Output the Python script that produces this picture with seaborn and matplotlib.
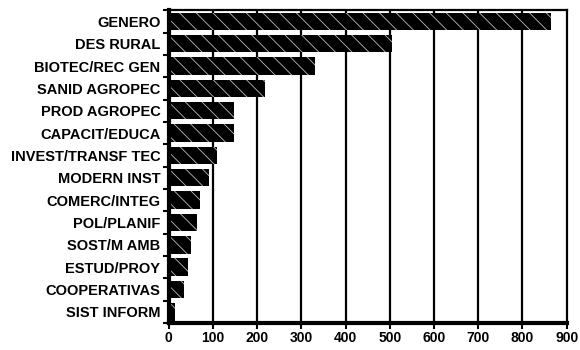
import numpy as np
import pandas as pd
import matplotlib
matplotlib.use("Agg")
import matplotlib.pyplot as plt
import seaborn as sns

# ── Data ─────────────────────────────────────────────────────────────────────
categories = ["GENERO", "DES RURAL", "BIOTEC/REC GEN", "SANID AGROPEC",
              "PROD AGROPEC", "CAPACIT/EDUCA", "INVEST/TRANSF TEC",
              "MODERN INST", "COMERC/INTEG", "POL/PLANIF", "SOST/M AMB",
              "ESTUD/PROY", "COOPERATIVAS", "SIST INFORM"]
values = [865, 505, 330, 217, 148, 148, 110, 92, 70, 63, 51, 43, 34, 15]
x_ticks = [0, 100, 200, 300, 400, 500, 600, 700, 800, 900]

sns.set_theme(style="white")
plt.rcParams["font.family"] = ["Liberation Sans", "DejaVu Sans"]
plt.rcParams["hatch.linewidth"] = 0.6

df = pd.DataFrame({"Tema": categories, "Valor": values})

fig = plt.figure(figsize=(5.8, 3.5), dpi=100)
ax = fig.add_axes([0.291, 0.077, 0.686, 0.894])

# vertical grid lines behind bars
for t in x_ticks[1:-1]:
    ax.axvline(t, color="black", lw=1.6, zorder=0)

sns.barplot(data=df, y="Tema", x="Valor", orient="h", color="black",
            width=0.78, ax=ax, zorder=2)

# light diagonal hatch on black bars (hatch follows edge colour)
for p in ax.patches:
    p.set_facecolor("black")
    p.set_hatch("\\\\")
    p.set_edgecolor("#bbbbbb")
    p.set_linewidth(0)

ax.set_xlim(0, 900)
ax.set_ylim(len(categories) - 0.5, -0.5)
ax.set_xticks(x_ticks)
ax.set_xlabel("")
ax.set_ylabel("")

for s in ax.spines.values():
    s.set_color("black")
    s.set_linewidth(1.6)
ax.spines["left"].set_linewidth(3)
ax.spines["bottom"].set_linewidth(3)

# category boundary ticks on the y axis
ax.set_yticks(np.arange(len(categories) + 1) - 0.5, minor=True)
ax.tick_params(axis="y", which="major", length=0, pad=6, labelsize=10.5)
ax.tick_params(axis="y", which="minor", left=True, length=4, width=1.5, color="black")
ax.tick_params(axis="x", bottom=True, length=4, width=1.5, color="black",
               labelsize=10, pad=2)
for lbl in ax.get_yticklabels() + ax.get_xticklabels():
    lbl.set_fontweight("bold")
    lbl.set_color("black")

fig.savefig("out.png", dpi=100)
